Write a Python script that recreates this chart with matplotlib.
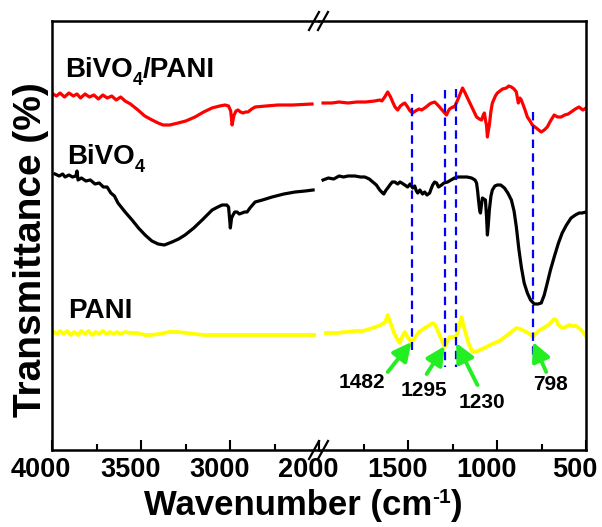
import matplotlib
matplotlib.use("Agg")
import matplotlib.pyplot as plt
from matplotlib.lines import Line2D
from matplotlib.transforms import ScaledTranslation

plt.rcParams['font.family'] = ['Liberation Sans', 'DejaVu Sans']
plt.rcParams['font.weight'] = 'bold'

# FTIR spectra, offset transmittance (a.u.); each split at the axis break
red_left_wn = [3994, 3975, 3955, 3930, 3905, 3880, 3860, 3840, 3815, 3790, 3765, 3740, 3715, 3690,
               3665, 3640, 3615, 3590, 3560, 3518, 3480, 3439, 3405, 3377, 3340, 3293, 3250, 3198,
               3150, 3103, 3060, 3030, 3010, 2998, 2990, 2984, 2979, 2968, 2957, 2943, 2929, 2915,
               2901, 2880, 2861, 2800, 2733, 2650, 2542]
red_left_t = [367, 365, 368, 364, 368, 365, 367, 363, 367, 364, 366, 362, 366, 363,
              365, 361, 364, 360, 357, 351, 345, 341, 338, 336, 336, 338, 340, 344,
              349, 353, 355, 356, 355, 350, 336, 342, 346, 350, 351, 349, 348, 349,
              349, 352, 354, 355, 356, 356, 357]
red_right_wn = [1980, 1930, 1890, 1840, 1790, 1740, 1690, 1660, 1649, 1633, 1616, 1600, 1588, 1575,
                1560, 1545, 1530, 1520, 1504, 1490, 1476, 1460, 1440, 1425, 1400, 1380, 1369, 1352,
                1340, 1324, 1305, 1285, 1275, 1268, 1250, 1240, 1220, 1195, 1180, 1167, 1140, 1116,
                1100, 1088, 1078, 1072, 1065, 1060, 1055, 1050, 1044, 1035, 1027, 1010, 999, 970,
                948, 935, 920, 905, 892, 885, 881, 872, 864, 845, 830, 815, 802, 780, 752, 735,
                718, 700, 679, 660, 640, 620, 600, 584, 560, 539, 525, 517, 500]
red_right_t = [358, 358, 359, 358, 359, 359, 360, 361, 360, 364, 369, 364, 359, 354,
               351, 355, 357, 358, 354, 350, 348, 350, 352, 351, 354, 357, 358, 359,
               357, 354, 350, 346, 350, 352, 354, 354, 362, 373, 368, 363, 353, 344,
               342, 341, 346, 348, 340, 336, 324, 330, 336, 350, 358, 365, 368, 372,
               373, 375, 374, 372, 369, 362, 358, 363, 361, 352, 344, 340, 336, 333, 329, 331,
               334, 340, 346, 344, 344, 346, 347, 349, 352, 354, 352, 351, 353]

black_left_wn = [3983, 3960, 3940, 3927, 3905, 3885, 3866, 3860, 3854, 3835, 3810, 3785, 3759, 3735,
                 3712, 3691, 3670, 3650, 3630, 3590, 3551, 3515, 3478, 3440, 3405, 3370, 3327, 3290,
                 3254, 3205, 3158, 3130, 3102, 3070, 3046, 3020, 3010, 3003, 3000, 2993, 2985, 2975,
                 2962, 2950, 2934, 2920, 2906, 2890, 2861, 2820, 2766, 2700, 2637, 2580, 2536]
black_left_t = [287, 285, 287, 284, 286, 284, 285, 290, 281, 283, 280, 281, 277, 278,
                274, 274, 268, 265, 258, 249, 241, 233, 226, 220, 217, 216, 219, 222,
                226, 233, 241, 246, 251, 254, 256, 256, 254, 240, 233, 243, 246, 249,
                249, 247, 248, 249, 249, 253, 259, 261, 264, 267, 269, 270, 271]
black_right_wn = [1980, 1950, 1920, 1890, 1865, 1840, 1800, 1770, 1745, 1720, 1700, 1680, 1661, 1645,
                  1638, 1625, 1616, 1600, 1590, 1576, 1560, 1547, 1537, 1520, 1504, 1490, 1475, 1464,
                  1455, 1447, 1435, 1420, 1408, 1395, 1380, 1372, 1363, 1352, 1341, 1330, 1313, 1300,
                  1279, 1260, 1240, 1220, 1201, 1170, 1144, 1125, 1116, 1110, 1105, 1098, 1094, 1090,
                  1083, 1075, 1066, 1060, 1055, 1050, 1044, 1035, 1027, 1013, 999, 980, 959, 940,
                  920, 905, 892, 878, 864, 848, 830, 812, 791, 770, 752, 735, 718, 700, 679, 655,
                  634, 610, 584, 560, 539, 522, 500]
black_right_t = [281, 283, 282, 285, 284, 285, 285, 284, 284, 282, 279, 276, 271, 268,
                 267, 271, 273, 277, 279, 279, 277, 279, 278, 276, 274, 277, 273, 275,
                 270, 268, 271, 267, 269, 266, 268, 272, 276, 279, 278, 274, 276, 278,
                 279, 281, 283, 284, 284, 284, 283, 281, 278, 270, 261, 250, 248, 254,
                 263, 262, 261, 245, 226, 236, 251, 265, 271, 275, 276, 276, 273, 268,
                 261, 250, 234, 212, 194, 178, 168, 161, 157, 157, 158, 166, 178, 191, 204, 218,
                 228, 236, 243, 246, 248, 248, 249]

yellow_left_wn = [3990, 3972, 3955, 3935, 3915, 3895, 3875, 3855, 3835, 3815, 3795, 3775, 3755, 3735,
                  3715, 3695, 3675, 3655, 3635, 3615, 3590, 3560, 3520, 3480, 3445, 3400, 3344, 3290,
                  3248, 3200, 3147, 3080, 2990, 2920, 2850, 2700, 2530]
yellow_left_t = [129, 127, 130, 127, 130, 126, 129, 126, 130, 127, 130, 126, 129, 127,
                 130, 127, 129, 127, 129, 127, 129, 128, 128, 126, 126, 127, 129, 129,
                 128, 127, 126, 126, 126, 126, 126, 126, 126]
yellow_right_wn = [1964, 1900, 1850, 1800, 1756, 1700, 1655, 1630, 1616, 1600, 1580, 1560, 1548, 1535,
                   1520, 1504, 1492, 1482, 1470, 1440, 1408, 1380, 1363, 1350, 1341, 1320, 1305, 1295,
                   1280, 1268, 1250, 1240, 1230, 1215, 1201, 1190, 1178, 1160, 1139, 1110, 1085, 1060,
                   1030, 987, 950, 920, 892, 870, 847, 825, 810, 798, 785, 760, 730, 705, 690, 679,
                   668, 655, 634, 615, 595, 575, 556, 540, 522, 500]
yellow_right_t = [128, 128, 129, 130, 130, 133, 136, 139, 146, 138, 128, 121, 118, 124,
                  129, 124, 121, 118, 122, 129, 133, 136, 138, 136, 133, 124, 118, 114,
                  120, 124, 124, 124, 125, 134, 144, 136, 128, 117, 109, 110, 112, 114,
                  117, 120, 125, 129, 133, 132, 130, 128, 126, 124, 127, 131, 134, 137, 140, 142,
                  141, 136, 133, 134, 136, 135, 135, 133, 130, 125]

peak_wn = [1482, 1295, 1230, 798]
peak_labels = ['1482', '1295', '1230', '798']
guide_top = [111, 94, 94, 101]
guide_bottom = [367, 371, 372, 349]
label_pos = [(1762, 79), (1413, 71), (1083, 59), (701, 77)]
arrow_tail = [(1616, 89), (1397, 87), (1111, 76), (724, 89)]
arrow_head = [119, 115, 118, 119]

W, H = 602, 527
fig = plt.figure(figsize=(W / 100, H / 100), dpi=100)
renderer = fig.canvas.get_renderer()
x0, xm, x1 = 52, 319.5, 586
ytop, ybot = 21, 450
ax1 = fig.add_axes([x0 / W, (H - ybot) / H, (xm - x0) / W, (ybot - ytop) / H])
ax2 = fig.add_axes([xm / W, (H - ybot) / H, (x1 - xm) / W, (ybot - ytop) / H])


def runs_text(x, y, runs, transform, ha='left'):
    # lay out pieces of text side by side: (string, size, raise in px)
    widths = []
    for s, size, dy in runs:
        t = fig.text(0, 0, s, fontsize=size)
        widths.append(t.get_window_extent(renderer).width)
        t.remove()
    dx = -sum(widths) / 2 if ha == 'center' else 0
    for (s, size, dy), w in zip(runs, widths):
        off = ScaledTranslation(dx / 100, dy / 100, fig.dpi_scale_trans)
        fig.text(x, y, s, fontsize=size, ha='left', va='baseline', transform=transform + off)
        dx += w


lw = 2.3
ax1.plot(red_left_wn, red_left_t, color='#ff0000', lw=lw)
ax2.plot(red_right_wn, red_right_t, color='#ff0000', lw=lw)
ax1.plot(black_left_wn, black_left_t, color='black', lw=lw)
ax2.plot(black_right_wn, black_right_t, color='black', lw=lw)
ax1.plot(yellow_left_wn, yellow_left_t, color='#ffff00', lw=2.7)
ax2.plot(yellow_right_wn, yellow_right_t, color='#ffff00', lw=2.7)

ax1.set_xlim(4000, 2500)
ax2.set_xlim(2000, 500)
for ax in (ax1, ax2):
    ax.set_ylim(11, 440)
    ax.set_yticks([])
    for s in ax.spines.values():
        s.set_linewidth(1.8)
    ax.tick_params(axis='x', which='major', direction='in', length=7, width=1.5,
                   labelsize=19.5, pad=5, top=False)
    ax.tick_params(axis='x', which='minor', direction='in', length=4, width=1.5, top=False)
ax1.spines['right'].set_visible(False)
ax2.spines['left'].set_visible(False)

ax1.set_xticks([4000, 3500, 3000])
ax1.set_xticks([3750, 3250, 2750], minor=True)
ax2.set_xticks([2000, 1500, 1000, 500])
ax2.set_xticks([1750, 1250, 750], minor=True)

shift = ScaledTranslation(-11 / 100, 0, fig.dpi_scale_trans)
for ax in (ax1, ax2):
    for lab in ax.get_xticklabels():
        lab.set_transform(lab.get_transform() + shift)

# sample names
runs_text(3927, 384, [('BiVO', 20, 0), ('4', 13, -8), ('/PANI', 20, 0)], ax1.transData)
runs_text(3916, 297, [('BiVO', 20, 0), ('4', 13, -8)], ax1.transData)
ax1.text(3910, 143, 'PANI', fontsize=20, ha='left', va='baseline')

# guide lines and marked PANI bands
ax2.vlines(peak_wn, guide_bottom, guide_top, colors='#0000ff', lw=1.6,
           linestyles=(0, (3.8, 2.4)))
for wn, lab, pos, tail, hy in zip(peak_wn, peak_labels, label_pos, arrow_tail, arrow_head):
    ax2.text(pos[0], pos[1], lab, fontsize=15, ha='center', va='center')
    ax2.annotate('', xy=(wn, hy), xytext=tail,
                 arrowprops=dict(arrowstyle='-|>,head_length=0.7,head_width=0.35',
                                 color='#22ee22', lw=2.8, mutation_scale=16,
                                 shrinkA=0, shrinkB=0))

# axis break marks
for yb in (ytop, ybot):
    for xc in (314, 323):
        fig.add_artist(Line2D([(xc - 5) / W, (xc + 5) / W],
                              [(H - yb - 9) / H, (H - yb + 9) / H],
                              color='black', lw=1.6, transform=fig.transFigure))

runs_text(303 / W, (H - 515) / H, [('Wavenumber (cm', 25, 0), ('-1', 15, 12), (')', 25, 0)],
          fig.transFigure, ha='center')
fig.text(31 / W, 1 - 250 / H, 'Transmittance (%)', fontsize=28, rotation=90,
         ha='center', va='center')

fig.savefig('out.png', dpi=100)
